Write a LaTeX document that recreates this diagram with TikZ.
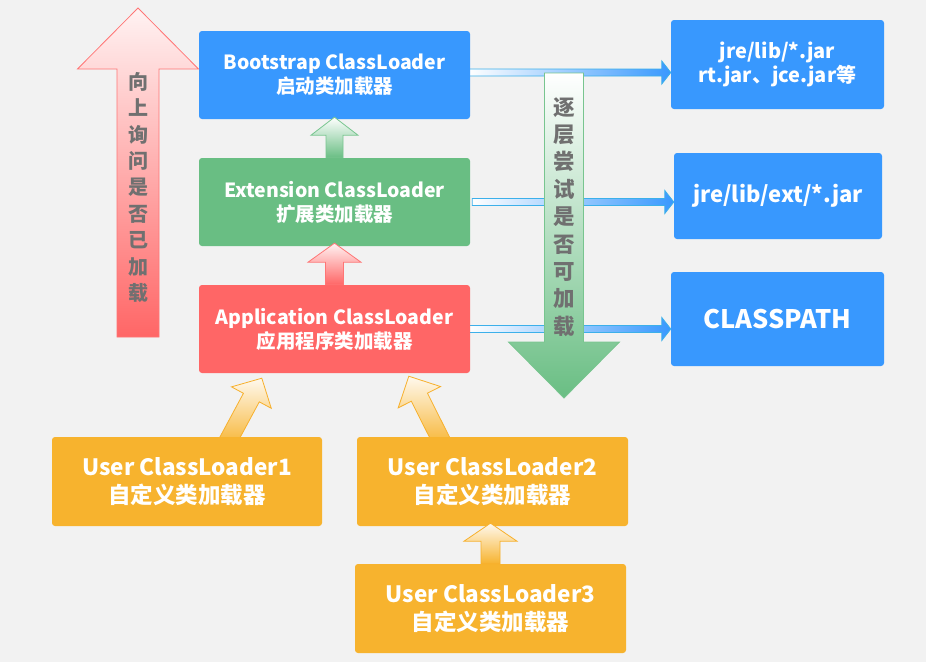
\documentclass[tikz,border=0pt]{standalone}
\usepackage{fontspec}
\newfontfamily\cjk{Noto Sans CJK SC}
\usetikzlibrary{calc}
\definecolor{bgray}{HTML}{F2F2F2}
\definecolor{loaderblue}{HTML}{3898FE}
\definecolor{loadergreen}{HTML}{69BE83}
\definecolor{loaderred}{HTML}{FF6666}
\definecolor{loaderyellow}{HTML}{F7B32E}
\definecolor{linkblue}{HTML}{3CB0EA}
\definecolor{labelgray}{HTML}{707070}
\pgfdeclarelayer{bg}
\pgfsetlayers{bg,main}
\tikzset{loader/.style={rectangle,rounded corners=3pt,minimum width=271pt,minimum height=88pt,inner sep=0pt,text=white,align=center,font=\cjk\bfseries\fontsize{19.5}{24}\selectfont},
user loader/.style={loader,fill=loaderyellow,minimum height=89pt,font=\cjk\bfseries\fontsize{22.5}{27.5}\selectfont},
jar box/.style={loader,fill=loaderblue,minimum width=213pt,font=\cjk\bfseries\fontsize{20}{24.5}\selectfont},
vlabel/.style={inner sep=0pt,align=center,text=labelgray,font=\cjk\bfseries\fontsize{20}{26.4}\selectfont}}
\tikzset{link/.style={draw=linkblue,line width=0.8pt,left color=white,middle color=loaderblue!45,right color=loaderblue},
up green/.style={draw=loadergreen!90,line width=0.8pt,top color=white,bottom color=loadergreen},
up red/.style={draw=loaderred!90,line width=0.8pt,top color=loaderred!8,bottom color=loaderred},
up yellow/.style={draw=loaderyellow!95!orange,line width=0.8pt,top color=loaderyellow!8,bottom color=loaderyellow}}
% block arrow: style, from, to, head length, shaft half width, head half width
\newcommand{\fatarrow}[6]{%
    \coordinate (fa-head) at ($(#3)!#4!(#2)$);
    \path [#1] ($(#2)!#5!90:(#3)$) -- ($(fa-head)!#5!90:(#3)$) -- ($(fa-head)!#6!90:(#3)$) -- (#3)
        -- ($(fa-head)!#6!-90:(#3)$) -- ($(fa-head)!#5!-90:(#3)$) -- ($(#2)!#5!-90:(#3)$) -- cycle;
}

\begin{document}
\begin{tikzpicture}[x=1pt,y=-1pt,node distance=127pt]
    \useasboundingbox (0,0) rectangle (926,662);

    \node [loader, fill=loaderblue] (boot) at (334.5,75) {Bootstrap ClassLoader\\启动类加载器};
    \node [loader, fill=loadergreen, below of = boot] (ext) {Extension ClassLoader\\扩展类加载器};
    \node [loader, fill=loaderred, below of = ext] (app) {Application ClassLoader\\应用程序类加载器};

    \node [jar box, minimum height=89pt, right of = boot, xshift=316pt, yshift=10.5pt] (jre) {jre/lib/*.jar\\rt.jar、jce.jar等};
    \node [jar box, minimum width=208pt, minimum height=86pt, right of = ext, xshift=316.5pt, yshift=6pt, font=\cjk\bfseries\fontsize{22}{25}\selectfont] (extjar) {jre/lib/ext/*.jar};
    \node [jar box, minimum height=94pt, right of = app, xshift=316pt, yshift=10pt, font=\cjk\bfseries\fontsize{25.5}{30}\selectfont] (classpath) {CLASSPATH};

    \node [user loader, minimum width=270pt, below of = app, xshift=-147.5pt, yshift=-25.5pt] (user1) {User ClassLoader1\\自定义类加载器};
    \node [user loader, right of = user1, xshift=178.5pt] (user2) {User ClassLoader2\\自定义类加载器};
    \node [user loader, below of = user2, xshift=-2pt] (user3) {User ClassLoader3\\自定义类加载器};

    \begin{pgfonlayer}{bg} % background layer
    \fill [bgray] (0,0) rectangle (926,662);
    \coordinate (bootout) at ($(boot.east)+(-2,-2.5)$);
    \coordinate (jrein) at (jre.west |- bootout);
    \coordinate (extout) at ($(ext.east)+(2,0)$);
    \coordinate (extjarin) at (extjar.west |- extout);
    \coordinate (appout) at ($(app.east)+(-2,0)$);
    \coordinate (classpathin) at (classpath.west |- appout);
    \fatarrow{link}{bootout}{jrein}{9pt}{3.5pt}{11.5pt}
    \fatarrow{link}{extout}{extjarin}{9pt}{3.5pt}{11.5pt}
    \fatarrow{link}{appout}{classpathin}{9pt}{3.5pt}{11.5pt}

    \coordinate (user1out) at ($(user1.north west)!0.646!(user1.north east)+(0,7)$);
    \coordinate (user1in) at ($(app.south west)+(63,5)$);
    \coordinate (user2out) at ($(user2.north west)!0.317!(user2.north east)+(0,7)$);
    \coordinate (user2in) at ($(app.south west)+(210,3)$);
    \fatarrow{up yellow}{user1out}{user1in}{22pt}{9pt}{22.6pt}
    \fatarrow{up yellow}{user2out}{user2in}{23.5pt}{9pt}{23.7pt}
    \end{pgfonlayer}

    \coordinate (boottip) at ($(boot.south)+(0,-2)$);
    \coordinate (exttip) at ($(ext.south)+(0,-3)$);
    \coordinate (user2tip) at ($(user3.north |- user2.south)+(0,-3)$);
    \fatarrow{up green}{ext.north}{boottip}{18pt}{8.5pt}{23.5pt}
    \fatarrow{up red}{app.north}{exttip}{19pt}{9pt}{26.5pt}
    \fatarrow{up yellow}{user3.north}{user2tip}{18pt}{9.5pt}{26.5pt}

    % big arrows
    \coordinate (askbase) at (138,337);
    \coordinate (asktip) at (138,8);
    \fatarrow{up red}{askbase}{asktip}{61pt}{21pt}{60.5pt}
    \node [vlabel] (asklabel) at (138,187.5) {向\\上\\询\\问\\是\\否\\已\\加\\载};

    \coordinate (trybase) at (564,73);
    \coordinate (trytip) at (564,398);
    \fatarrow{up green}{trybase}{trytip}{56pt}{19.5pt}{55.5pt}
    \node [vlabel, font=\cjk\bfseries\fontsize{21.5}{27.4}\selectfont] (trylabel) at (564,217) {逐\\层\\尝\\试\\是\\否\\可\\加\\载};
\end{tikzpicture}
\end{document}
